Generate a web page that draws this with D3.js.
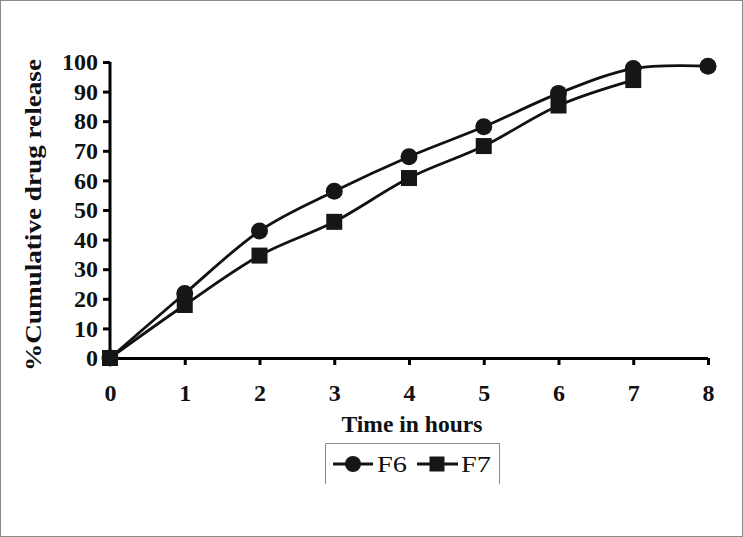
<!DOCTYPE html>
<html>
<head>
<meta charset="utf-8">
<script src="https://cdn.jsdelivr.net/npm/d3@7"></script>
<style>
html,body{margin:0;padding:0;background:#fff;}
svg text{font-family:"Liberation Serif","Times New Roman",serif;}
</style>
</head>
<body>
<svg id="chart" width="743" height="537"></svg>
<script>
const hours = [0, 1, 2, 3, 4, 5, 6, 7, 8];
const f6 = [0, 21.8, 42.9, 56.3, 68.0, 78.1, 89.4, 97.8, 98.6];
const f7Hours = [0, 1, 2, 3, 4, 5, 6, 7];
const f7 = [0, 17.9, 34.6, 46.0, 60.8, 71.6, 85.3, 93.9];
const xTicks = [0, 1, 2, 3, 4, 5, 6, 7, 8];
const yTicks = [0, 10, 20, 30, 40, 50, 60, 70, 80, 90, 100];
const seriesNames = ["F6", "F7"];

const svg = d3.select("#chart");
const W = 743, H = 537;
const m = {left: 110, right: 35, top: 62, bottom: 179};

svg.append("rect").attr("x", 0.5).attr("y", 0.5).attr("width", W - 1).attr("height", H - 1)
  .attr("fill", "#fff").attr("stroke", "#8a8a8a").attr("stroke-width", 1);

const x = d3.scaleLinear().domain([0, 8]).range([m.left, W - m.right]);
const y = d3.scaleLinear().domain([0, 100]).range([H - m.bottom, m.top]);

const xAxis = d3.axisBottom(x).tickValues(xTicks).tickSize(7).tickPadding(19).tickFormat(d3.format("d"));
const yAxis = d3.axisLeft(y).tickValues(yTicks).tickSize(7).tickPadding(5).tickFormat(d3.format("d"));

const gx = svg.append("g").attr("transform", `translate(0,${y(0)})`).call(xAxis);
const gy = svg.append("g").attr("transform", `translate(${x(0)},0)`).call(yAxis);
[gx, gy].forEach(g => {
  g.select(".domain").attr("stroke", "#000").attr("stroke-width", 3);
  g.selectAll(".tick line").attr("stroke", "#000").attr("stroke-width", 3);
  g.selectAll(".tick text").attr("fill", "#111").style("font-size", "24px").style("font-weight", "bold")
    .style("font-family", "'Liberation Serif', serif");
});
gx.select(".domain").attr("d", `M${x(0)},0.5H${x(8)}`);
gy.select(".domain").attr("d", `M0,${y(0)}V${y(100)}`);

svg.append("text").attr("x", 412).attr("y", 432).attr("text-anchor", "middle")
  .attr("textLength", 141).attr("lengthAdjust", "spacingAndGlyphs")
  .style("font-size", "23px").style("font-weight", "bold").attr("fill", "#111").text("Time in hours");

svg.append("text").attr("transform", `translate(41,215) rotate(-90)`)
  .attr("text-anchor", "middle").attr("textLength", 312).attr("lengthAdjust", "spacingAndGlyphs")
  .style("font-size", "23px").style("font-weight", "bold").attr("fill", "#111")
  .text("%Cumulative drug release");

const line = d3.line().curve(d3.curveCatmullRom.alpha(0)).x(d => x(d[0])).y(d => y(d[1]));
const d6 = hours.map((h, i) => [h, f6[i]]);
const d7 = f7Hours.map((h, i) => [h, f7[i]]);

svg.append("path").attr("d", line(d6)).attr("fill", "none").attr("stroke", "#111").attr("stroke-width", 2.8);
svg.append("path").attr("d", line(d7)).attr("fill", "none").attr("stroke", "#111").attr("stroke-width", 2.8);

const sq = 16;
svg.selectAll("rect.f7").data(d7).enter().append("rect").attr("class", "f7")
  .attr("x", d => x(d[0]) - sq / 2).attr("y", d => y(d[1]) - sq / 2).attr("width", sq).attr("height", sq)
  .attr("fill", "#161616");
svg.selectAll("circle.f6").data(d6).enter().append("circle").attr("class", "f6")
  .attr("cx", d => x(d[0])).attr("cy", d => y(d[1])).attr("r", 8.5).attr("fill", "#161616");

// legend
const lg = svg.append("g");
lg.append("path").attr("d", "M325.5,484V443.5H499.5V484").attr("fill", "none").attr("stroke", "#8a8a8a").attr("stroke-width", 1);
const items = [{x0: 333, x1: 373, mx: 353, tx: 377}, {x0: 417, x1: 458, mx: 437, tx: 461}];
items.forEach((it, i) => {
  lg.append("line").attr("x1", it.x0).attr("x2", it.x1).attr("y1", 464).attr("y2", 464)
    .attr("stroke", "#111").attr("stroke-width", 2.8);
  if (i === 0) lg.append("circle").attr("cx", it.mx).attr("cy", 464).attr("r", 8).attr("fill", "#161616");
  else lg.append("rect").attr("x", it.mx - 7.5).attr("y", 456.5).attr("width", 15).attr("height", 15).attr("fill", "#161616");
  lg.append("text").attr("x", it.tx).attr("y", 472).attr("textLength", 30).attr("lengthAdjust", "spacingAndGlyphs")
    .style("font-size", "23px").attr("fill", "#111").text(seriesNames[i]);
});
</script>
</body>
</html>
